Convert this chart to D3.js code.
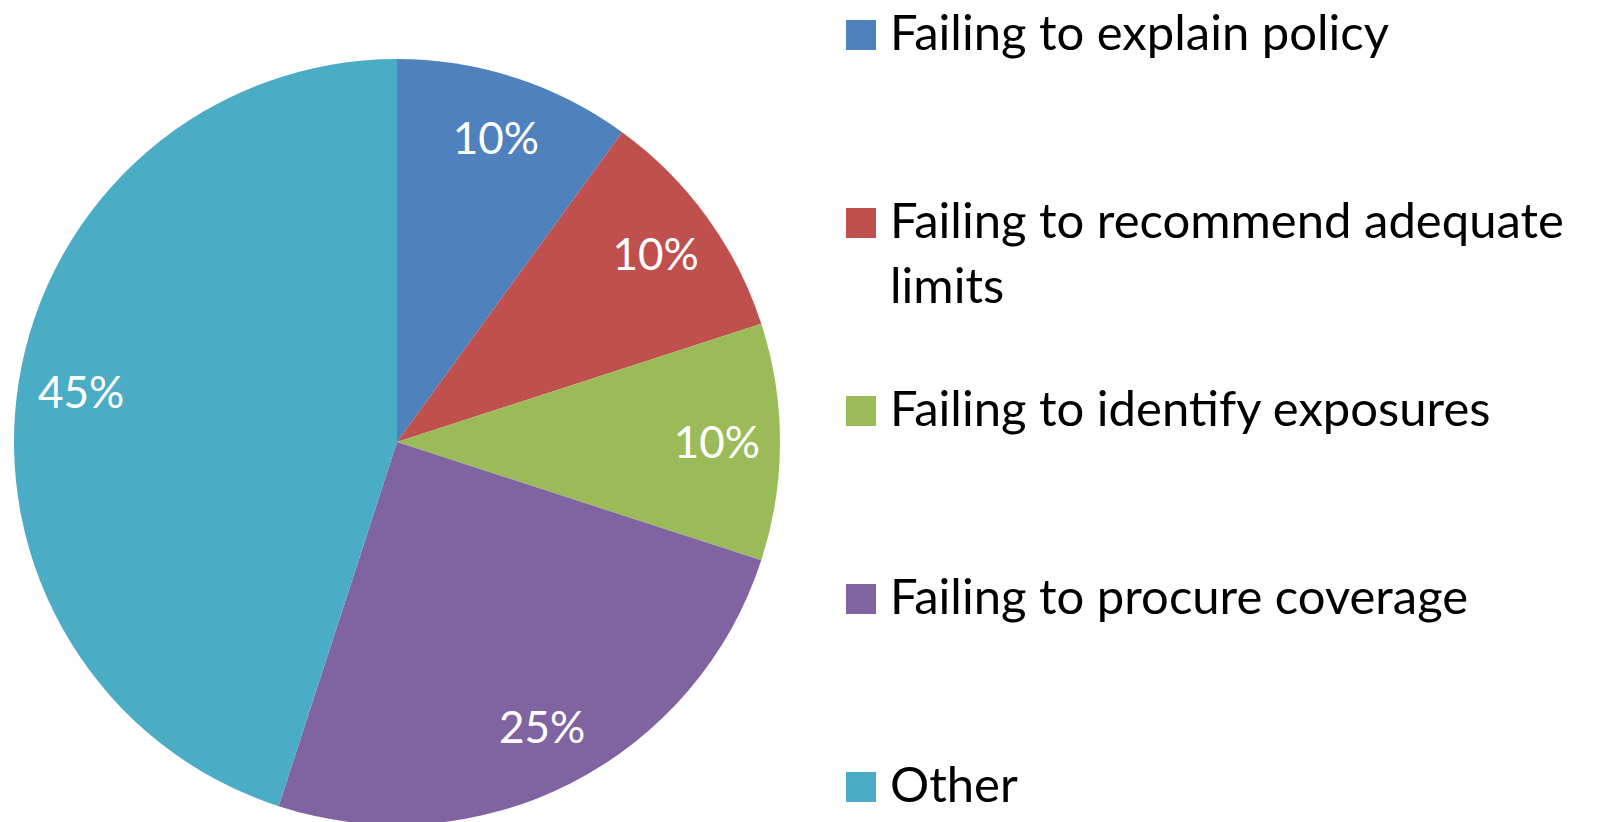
<!DOCTYPE html>
<html>
<head>
<meta charset="utf-8">
<script src="https://cdn.jsdelivr.net/npm/d3@7"></script>
<style>
  body { margin: 0; background: #fff; }
  text { font-family: Lato, 'Open Sans', sans-serif; }
</style>
</head>
<body>
<svg class="chart"></svg>
<script>
const categories = [
  'Failing to explain policy',
  'Failing to recommend adequate limits',
  'Failing to identify exposures',
  'Failing to procure coverage',
  'Other'
]
const values = [10, 10, 10, 25, 45]
const colors = ['#4f81bd', '#c0504d', '#9bbb59', '#8064a2', '#4bacc6']

const width = 1601,
      height = 822

const cx = 397, cy = 442, radius = 383

const svg = d3.select('.chart')
  .attr('width', width)
  .attr('height', height)

const data = categories.map((name, i) => ({ name, value: values[i] }))

const color = d3.scaleOrdinal()
  .domain(categories)
  .range(colors)

const pie = d3.pie()
  .value(d => d.value)
  .sort(null)

const arc = d3.arc()
  .innerRadius(0)
  .outerRadius(radius)

const labelArc = d3.arc()
  .innerRadius(radius * 0.835)
  .outerRadius(radius * 0.835)

const total = d3.sum(values)

const g = svg.append('g')
  .attr('transform', `translate(${cx}, ${cy})`)

const slice = g.selectAll('g')
  .data(pie(data))
  .enter()
  .append('g')

slice.append('path')
  .attr('d', arc)
  .attr('fill', d => color(d.data.name))

slice.append('text')
  .attr('transform', d => `translate(${labelArc.centroid(d)})`)
  .attr('text-anchor', 'middle')
  .attr('dy', '0.36em')
  .attr('fill', '#fff')
  .style('font-size', '44px')
  .text(d => d3.format('.0%')(d.data.value / total))

// legend
const legendX = 846
const y = d3.scalePoint()
  .domain(categories)
  .range([50, 802])

const legend = svg.selectAll('.legend')
  .data(data)
  .enter()
  .append('g')
  .attr('class', 'legend')
  .attr('transform', d => `translate(${legendX}, ${y(d.name)})`)

legend.append('rect')
  .attr('y', -30)
  .attr('width', 30)
  .attr('height', 30)
  .attr('fill', d => color(d.name))

legend.append('text')
  .attr('x', 44)
  .style('font-size', '49px')
  .attr('fill', '#000')
  .each(function(d) {
    const text = d3.select(this)
    const words = d.name.split(' ')
    const maxWidth = width - legendX - 44 - 5
    let line = []
    let tspan = text.append('tspan').attr('x', 44).attr('dy', 0)
    words.forEach(w => {
      line.push(w)
      tspan.text(line.join(' '))
      if (tspan.node().getComputedTextLength() > maxWidth && line.length > 1) {
        line.pop()
        tspan.text(line.join(' '))
        line = [w]
        tspan = text.append('tspan').attr('x', 44).attr('dy', 65).text(w)
      }
    })
  })
</script>
</body>
</html>
